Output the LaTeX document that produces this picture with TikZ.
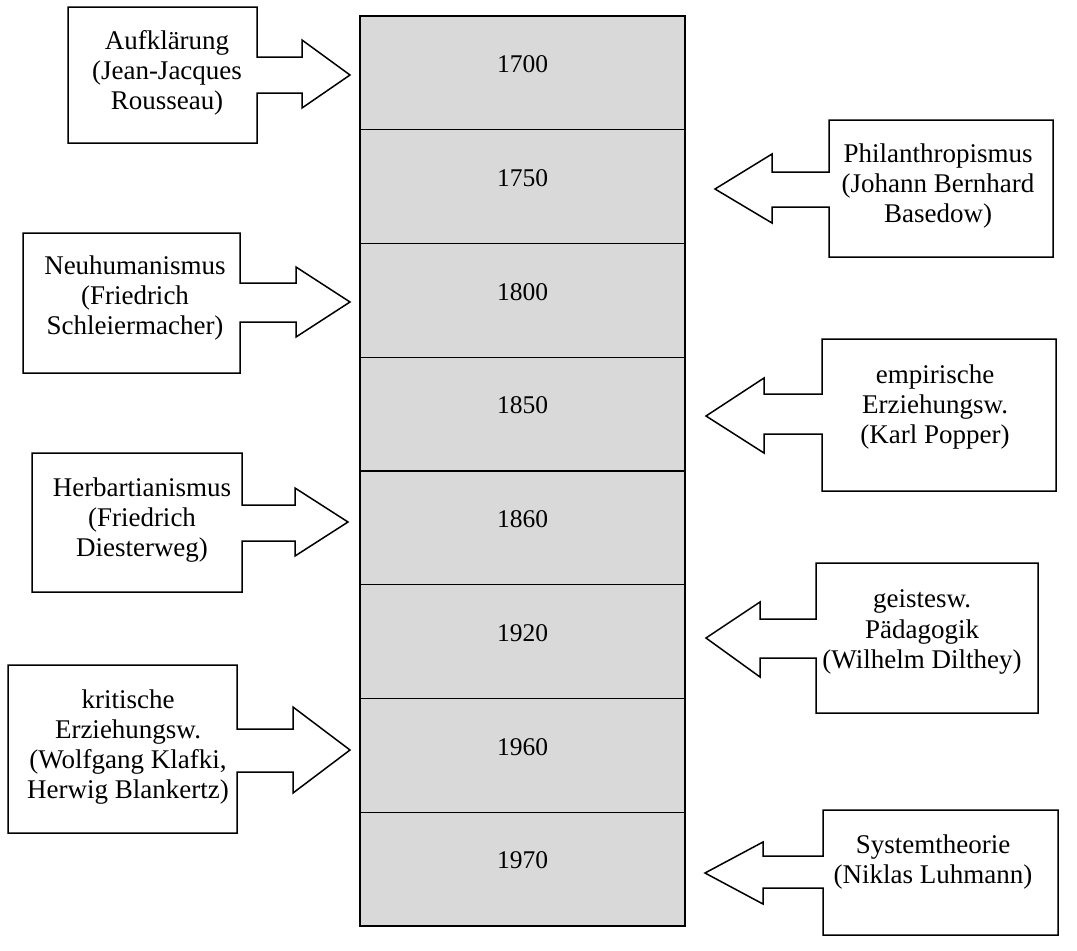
\documentclass[tikz,border=0pt]{standalone}
\usepackage{fontspec}
\setmainfont{Liberation Serif}
\definecolor{rowgray}{HTML}{D9D9D9}
\begin{document}
\begin{tikzpicture}[x=1pt,y=-1pt,
    yearrow/.style={draw, line width=1.3pt, fill=rowgray, minimum width=325pt, minimum height=113.75pt, inner sep=0pt},
    callout/.style={draw, line width=1.5pt, fill=white, line join=miter},
    strand/.style={align=center, inner sep=0pt, font=\fontsize{27}{30.3}\selectfont}]
  \useasboundingbox (0,0) rectangle (1077,951);
  % time line
  \foreach \yr [count=\i from 0] in {1700,1750,1800,1850,1860,1920,1960,1970} {
    \node (row\i) [yearrow] at (522.5,{72.875+113.75*\i}) {};
    \node (yr\i) [anchor=base, font=\fontsize{25.5}{28}\selectfont] at (522.5,{72.5+113.75*\i}) {\yr};
  }
  % left callouts
  \draw[callout] (68,7) -- (257,7) -- (257,57) -- (302,57) -- (302,40) -- (350,75) -- (302,108) -- (302,93) -- (257,93) -- (257,143) -- (68,143) -- cycle;
  \node (aufkl) [strand] at (167,73) {Aufklärung\\(Jean-Jacques\\Rousseau)};
  \draw[callout] (23,233) -- (240,233) -- (240,283) -- (296,283) -- (296,267) -- (350,302) -- (296,337) -- (296,322) -- (240,322) -- (240,373) -- (23,373) -- cycle;
  \node (neuhum) [strand] at (135,298) {Neuhumanismus\\(Friedrich\\Schleiermacher)};
  \draw[callout] (32,453) -- (242,453) -- (242,505) -- (295,505) -- (295,488) -- (348,522) -- (295,556) -- (295,541) -- (242,541) -- (242,592) -- (32,592) -- cycle;
  \node (herbart) [strand] at (142,520) {Herbartianismus\\(Friedrich\\Diesterweg)};
  \draw[callout] (8,665) -- (237,665) -- (237,729) -- (293,729) -- (293,707) -- (350,750) -- (293,793) -- (293,772) -- (237,772) -- (237,833) -- (8,833) -- cycle;
  \node (krit) [strand] at (128,747) {kritische\\Erziehungsw.\\(Wolfgang Klafki,\\Herwig Blankertz)};
  % right callouts
  \draw[callout] (829,120) -- (1053,120) -- (1053,257) -- (829,257) -- (829,207) -- (772,207) -- (772,223) -- (715,189) -- (772,154) -- (772,172) -- (829,172) -- cycle;
  \node (philan) [strand] at (938,186) {Philanthropismus\\(Johann Bernhard\\Basedow)};
  \draw[callout] (822,339) -- (1056,339) -- (1056,491) -- (822,491) -- (822,434) -- (764,434) -- (764,453) -- (706,416) -- (764,378) -- (764,394) -- (822,394) -- cycle;
  \node (empir) [strand] at (935,407) {empirische\\Erziehungsw.\\(Karl Popper)};
  \draw[callout] (816,563) -- (1038,563) -- (1038,713) -- (816,713) -- (816,658) -- (760,658) -- (760,677) -- (706,638) -- (760,602) -- (760,619) -- (816,619) -- cycle;
  \node (geist) [strand] at (922,632) {geistesw.\\Pädagogik\\(Wilhelm Dilthey)};
  \draw[callout] (823,810) -- (1058,810) -- (1058,935) -- (823,935) -- (823,888) -- (763,888) -- (763,904) -- (705,873) -- (763,842) -- (763,856) -- (823,856) -- cycle;
  \node (system) [strand] at (933,862) {Systemtheorie\\(Niklas Luhmann)};
\end{tikzpicture}
\end{document}
